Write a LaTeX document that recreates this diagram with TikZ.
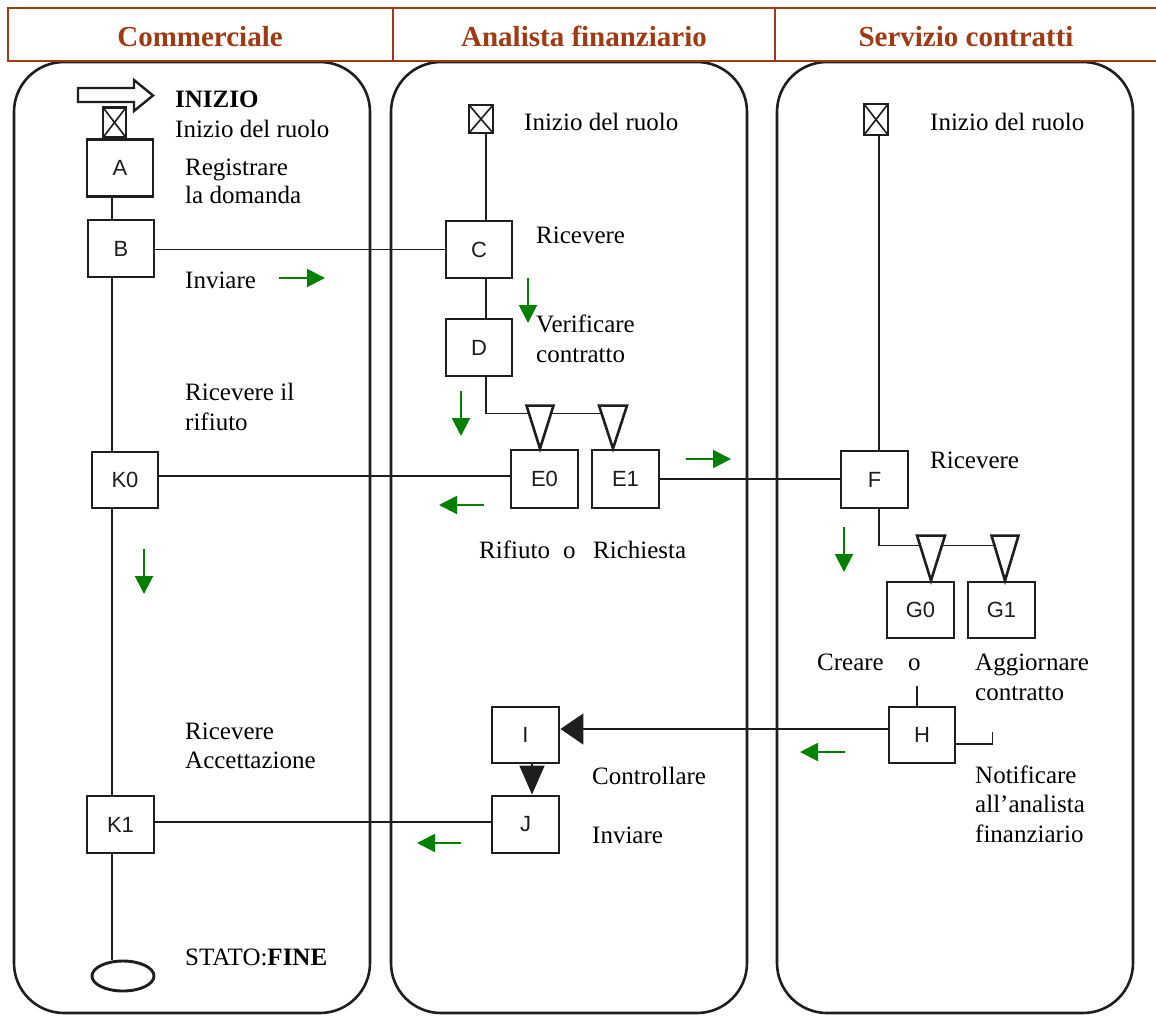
\documentclass[tikz,border=0pt]{standalone}
\usepackage{fontspec}
\setmainfont{Liberation Serif}
\setsansfont{Liberation Sans}
\usetikzlibrary{arrows.meta,shapes.geometric}
\definecolor{hdr}{RGB}{160,58,18}
\definecolor{flow}{RGB}{0,128,0}
\definecolor{ink}{RGB}{30,30,30}
\begin{document}
\begin{tikzpicture}[x=1pt,y=-1pt,
  lane/.style={draw=ink, line width=2.6pt, rounded corners=50pt},
  stepbox/.style={draw=ink, line width=2.9pt, fill=white, minimum width=66pt, minimum height=57pt,
    inner sep=0pt, font=\sffamily\fontsize{22}{26}\selectfont, text=ink},
  startbox/.style={draw=ink, line width=2.9pt, fill=white, minimum width=22pt, minimum height=28pt, inner sep=0pt,
    path picture={\draw[line width=1.6pt,ink]
      (path picture bounding box.north west) -- (path picture bounding box.south east)
      (path picture bounding box.north east) -- (path picture bounding box.south west);}},
  endstate/.style={draw=ink, line width=2.9pt, fill=white, ellipse, minimum width=62pt, minimum height=30pt, inner sep=0pt},
  link/.style={draw=ink, line width=1.7pt},
  fork/.style={draw=ink, line width=2.6pt, fill=white, line join=miter},
  txt/.style={anchor=base west, inner sep=0pt, font=\fontsize{25}{30}\selectfont},
  head/.style={anchor=base, inner sep=0pt, text=hdr, font=\bfseries\fontsize{29}{34}\selectfont},
  hint/.style={draw=flow, line width=2pt, -{Triangle[length=18pt,width=18pt]}},
]
\useasboundingbox (0,0) rectangle (1156,1017);
\fill[white] (0,0) rectangle (1156,1017);

% swimlanes
\draw[lane] (14,62) rectangle (370,1013);
\draw[lane] (391,62) rectangle (747,1013);
\draw[lane] (777,62) rectangle (1133,1013);

% header band
\draw[hdr, line width=2.8pt] (8,8) rectangle (1162,61);
\draw[hdr, line width=2.8pt] (393,8) -- (393,61) (775,8) -- (775,61);
\node[head] (h1) at (200,46) {Commerciale};
\node[head] (h2) at (584,46) {Analista finanziario};
\node[head] (h3) at (966,46) {Servizio contratti};

% ---- Commerciale ----
\draw[ink, line width=2.4pt, fill=white] (78,88) -- (134,88) -- (134,80) -- (153,95.5) -- (134,111) -- (134,102) -- (78,102) -- cycle;
\node[startbox, minimum width=23pt, minimum height=30pt] (s1) at (114.5,122.5) {};
\node[stepbox] (A) at (120,168) {A};
\node[stepbox] (B) at (121,248.5) {B};
\node[stepbox, minimum height=56pt] (K0) at (125,480) {K0};
\node[stepbox, minimum width=67pt] (K1) at (120.5,824.5) {K1};
\node[endstate] (fin) at (123,976) {};
\coordinate (t1) at (112,0);

\draw[link] (A.south -| t1) -- (B.north -| t1);
\draw[link] (B.south -| t1) -- (K0.north -| t1);
\draw[link] (K0.south -| t1) -- (K1.north -| t1);
\draw[link] (K1.south -| t1) -- (fin.north -| t1);

\node[txt, font=\bfseries\fontsize{25}{30}\selectfont] (l1) at (175,107) {INIZIO};
\node[txt] (l2) at (175,137) {Inizio del ruolo};
\node[txt] (l3) at (185,175) {Registrare};
\node[txt] (l4) at (185,203) {la domanda};
\node[txt] (l5) at (185,288) {Inviare};
\node[txt] (l6) at (185,400) {Ricevere il};
\node[txt] (l7) at (185,430) {rifiuto};
\node[txt] (l8) at (185,739) {Ricevere};
\node[txt] (l9) at (185,768) {Accettazione};
\node[txt] (l10) at (185,965) {STATO:\textbf{FINE}};

% ---- Analista finanziario ----
\node[startbox, minimum width=24pt] (s2) at (481,119) {};
\coordinate (t2) at (486,0);
\node[stepbox] (C) at (479,249.5) {C};
\node[stepbox] (D) at (479,347.5) {D};
\node[stepbox, minimum width=67pt, minimum height=58pt] (E0) at (544.5,479) {E0};
\node[stepbox, minimum width=67pt, minimum height=58pt] (E1) at (625.5,479) {E1};
\node[stepbox, minimum width=67pt, minimum height=56pt] (I) at (525.5,735) {I};
\node[stepbox, minimum width=67pt] (J) at (525.5,824.5) {J};

\draw[link] (s2.south -| t2) -- (C.north -| t2);
\draw[link] (C.south -| t2) -- (D.north -| t2);
\draw[link] (C.west -| B.east) -- (C.west);

\coordinate (e0tip) at ([xshift=-4.5pt]E0.north);
\coordinate (e1tip) at ([xshift=-12.5pt]E1.north);
\draw[link] (D.south -| t2) |- ([yshift=35pt]e1tip);
\draw[fork] (e0tip) -- ++(-13.5,-43) -- ++(27,0) -- cycle;
\draw[fork] (e1tip) -- ++(-14,-43) -- ++(28,0) -- cycle;

\draw[link] ([yshift=3pt]E0.west) -- ([yshift=3pt]E0.west -| K0.east);
\draw[link] ([yshift=2.5pt]J.west) -- ([yshift=2.5pt]J.west -| K1.east);
\draw[link, -{Triangle[length=29pt,width=25pt]}] ([xshift=6.5pt]I.south) -- ([xshift=6.5pt]J.north);

\node[txt] (m1) at (524,130) {Inizio del ruolo};
\node[txt] (m2) at (536,243) {Ricevere};
\node[txt] (m3) at (536,332) {Verificare};
\node[txt] (m4) at (536,362) {contratto};
\node[txt] (m5) at (479,558) {Rifiuto};
\node[txt] (m6) at (563,558) {o};
\node[txt] (m7) at (593,558) {Richiesta};
\node[txt] (m8) at (592,784) {Controllare};
\node[txt] (m9) at (592,843) {Inviare};

% ---- Servizio contratti ----
\node[startbox, minimum width=24pt, minimum height=31pt] (s3) at (876,119.5) {};
\coordinate (t3) at (879,0);
\node[stepbox, minimum width=67pt] (F) at (874.5,479.5) {F};
\node[stepbox, minimum width=67pt, minimum height=56pt] (G0) at (920.5,610) {G0};
\node[stepbox, minimum width=67pt, minimum height=56pt] (G1) at (1001.5,610) {G1};
\node[stepbox, minimum height=56pt] (H) at (922,735) {H};

\draw[link] (s3.south -| t3) -- (F.north -| t3);
\draw[link] (E1.east) -- (E1.east -| F.west);

\coordinate (g0tip) at ([xshift=10.5pt]G0.north);
\coordinate (g1tip) at ([xshift=3.5pt]G1.north);
\draw[link] (F.south -| t3) |- ([yshift=35pt]g1tip);
\draw[fork] (g0tip) -- ++(-14,-45) -- ++(28,0) -- cycle;
\draw[fork] (g1tip) -- ++(-13.5,-45) -- ++(27,0) -- cycle;

\coordinate (hup) at ([xshift=-5pt]H.north);
\draw[link] (hup) -- ++(0,-20);
\draw[link] ([yshift=-9pt]H.east) -- ++(36,0) -- ++(0,-12);
\draw[link, -{Triangle[length=23pt,width=31pt]}] ([yshift=6pt]H.west) -- ([yshift=6pt]H.west -| I.east);

\node[txt] (r1) at (930,130) {Inizio del ruolo};
\node[txt] (r2) at (930,468) {Ricevere};
\node[txt] (r3) at (817,670) {Creare};
\node[txt] (r4) at (908,670) {o};
\node[txt] (r5) at (975,670) {Aggiornare};
\node[txt] (r6) at (975,700) {contratto};
\node[txt] (r7) at (975,783) {Notificare};
\node[txt] (r8) at (975,812) {all’analista};
\node[txt] (r9) at (975,842) {finanziario};

% direction hints
\draw[hint] (279,278) -- (325,278);
\draw[hint] (528,278) -- (528,323);
\draw[hint] (461,391) -- (461,436);
\draw[hint] (484,505) -- (439,505);
\draw[hint] (686,459) -- (731,459);
\draw[hint] (144,549) -- (144,594);
\draw[hint] (844,527) -- (844,572);
\draw[hint] (845,752) -- (800,752);
\draw[hint] (461,843) -- (417,843);
\end{tikzpicture}
\end{document}
